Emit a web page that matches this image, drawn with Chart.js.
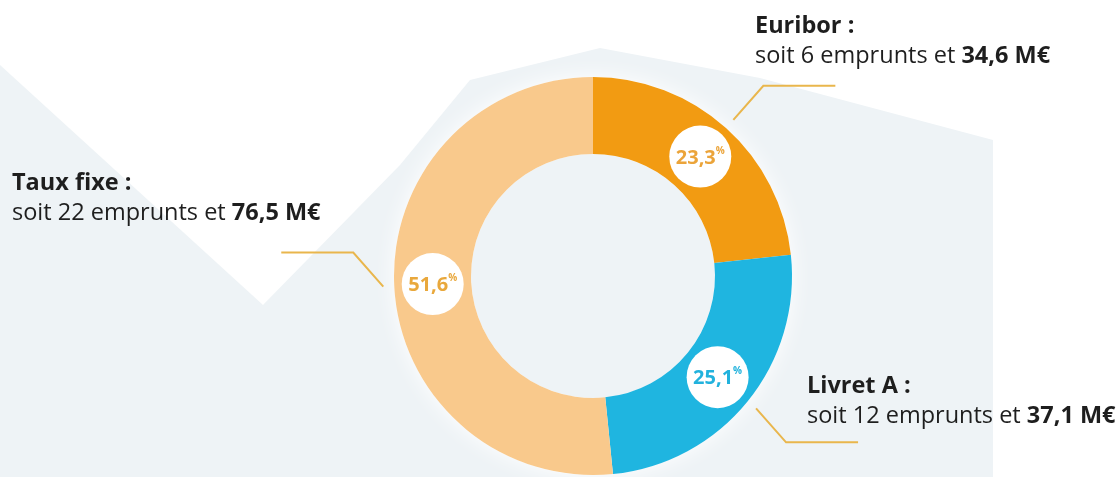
<!DOCTYPE html>
<html>
<head>
<meta charset="utf-8">
<script src="https://cdn.jsdelivr.net/npm/chart.js@4.4.1/dist/chart.umd.min.js"></script>
<style>
  html, body { margin: 0; padding: 0; background: #fff; }
  #wrap { width: 1120px; height: 477px; position: relative; }
</style>
</head>
<body>
<div id="wrap"><canvas id="myChart" width="1120" height="477"></canvas></div>
<script>
// data
var categories = ['Euribor', 'Livret A', 'Taux fixe'];
var shares = [23.3, 25.1, 51.6];
var shareLabels = ['23,3', '25,1', '51,6'];
var loanCounts = [6, 12, 22];
var amounts = ['34,6', '37,1', '76,5'];

var sliceColors = ['#F29B12', '#1FB5E0', '#F9C98C'];
var labelColors = ['#EBA43A', '#22B2DD', '#E9A83C'];
var leaderColor = '#E9B64C';
var bgGrey = '#EEF3F6';
var font = '"Open Sans", sans-serif';
var textSize = 23.5;

// where each text block sits (left x, first baseline) and which way the leader bends
var textPos = [
    { x: 755, y: 33, up: -1 },
    { x: 807, y: 393, up: 1 },
    { x: 12, y: 190, up: -1 }
];

var backdrop = {
    id: 'backdrop',
    beforeDraw: function(chart) {
        var ctx = chart.ctx;
        ctx.save();
        ctx.fillStyle = '#fff';
        ctx.fillRect(0, 0, chart.width, chart.height);
        ctx.fillStyle = bgGrey;
        ctx.beginPath();
        ctx.moveTo(0, 65);
        ctx.lineTo(263, 305);
        ctx.lineTo(400, 165);
        ctx.lineTo(470, 80);
        ctx.lineTo(600, 48);
        ctx.lineTo(760, 78);
        ctx.lineTo(993, 140);
        ctx.lineTo(993, 477);
        ctx.lineTo(0, 477);
        ctx.closePath();
        ctx.fill();
        ctx.restore();
    },
    beforeDatasetsDraw: function(chart) {
        // soft white halo round the ring
        var a = chart.getDatasetMeta(0).data[0];
        var ctx = chart.ctx;
        ctx.save();
        ctx.shadowColor = 'rgba(255,255,255,1)';
        ctx.shadowBlur = 22;
        ctx.fillStyle = '#fff';
        ctx.beginPath();
        ctx.arc(a.x, a.y, a.outerRadius, 0, Math.PI * 2);
        ctx.fill();
        ctx.shadowBlur = 0;
        ctx.fillStyle = bgGrey;
        ctx.beginPath();
        ctx.arc(a.x, a.y, a.innerRadius, 0, Math.PI * 2);
        ctx.fill();
        ctx.restore();
    }
};

var callouts = {
    id: 'callouts',
    afterDatasetsDraw: function(chart) {
        var ctx = chart.ctx;
        var arcs = chart.getDatasetMeta(0).data;
        ctx.save();
        for (var i = 0; i < arcs.length; i++)
        {
            var a = arcs[i];
            var mid = (a.startAngle + a.endAngle) / 2;
            var cx = Math.cos(mid), cy = Math.sin(mid);
            var rMid = (a.innerRadius + a.outerRadius) / 2;

            // white bubble with the share
            var bx = a.x + cx * rMid, by = a.y + cy * rMid;
            ctx.fillStyle = '#fff';
            ctx.beginPath();
            ctx.arc(bx, by, 31, 0, Math.PI * 2);
            ctx.fill();
            ctx.fillStyle = labelColors[i];
            ctx.font = 'bold 20px ' + font;
            var w1 = ctx.measureText(shareLabels[i]).width;
            ctx.font = 'bold 10px ' + font;
            var w2 = ctx.measureText('%').width;
            var tx = bx - (w1 + w2) / 2;
            ctx.textBaseline = 'alphabetic';
            ctx.textAlign = 'left';
            ctx.font = 'bold 20px ' + font;
            ctx.fillText(shareLabels[i], tx, by + 7);
            ctx.font = 'bold 10px ' + font;
            ctx.fillText('%', tx + w1, by - 3);

            // leader line
            var p = textPos[i];
            var sx = a.x + cx * (a.outerRadius + 11);
            var sy = a.y + cy * (a.outerRadius + 11);
            var dx = cx >= 0 ? 1 : -1, dy = p.up;
            var ex = sx + dx * 30, ey = sy + dy * 34;
            ctx.strokeStyle = leaderColor;
            ctx.lineWidth = 2;
            ctx.beginPath();
            ctx.moveTo(sx, sy);
            ctx.lineTo(ex, ey);
            ctx.lineTo(ex + dx * 72, ey);
            ctx.stroke();

            // text block
            ctx.fillStyle = '#1e1e1e';
            ctx.font = 'bold ' + textSize + 'px ' + font;
            ctx.fillText(categories[i] + ' :', p.x, p.y);
            var s = 'soit ' + loanCounts[i] + ' emprunts et ';
            ctx.font = textSize + 'px ' + font;
            ctx.fillText(s, p.x, p.y + 30);
            var sw = ctx.measureText(s).width;
            ctx.font = 'bold ' + textSize + 'px ' + font;
            ctx.fillText(amounts[i] + ' M\u20AC', p.x + sw, p.y + 30);
        }
        ctx.restore();
    }
};

var ctx = document.getElementById('myChart').getContext('2d');
var myChart = new Chart(ctx, {
    type: 'doughnut',
    data: {
        labels: categories,
        datasets: [{
            data: shares,
            backgroundColor: sliceColors,
            borderWidth: 0
        }]
    },
    options: {
        responsive: false,
        animation: false,
        cutout: '61.3%',
        layout: { padding: { left: 66, right: 0, top: 77, bottom: 2 } },
        plugins: {
            legend: { display: false },
            tooltip: { enabled: false }
        }
    },
    plugins: [backdrop, callouts]
});
</script>
</body>
</html>
